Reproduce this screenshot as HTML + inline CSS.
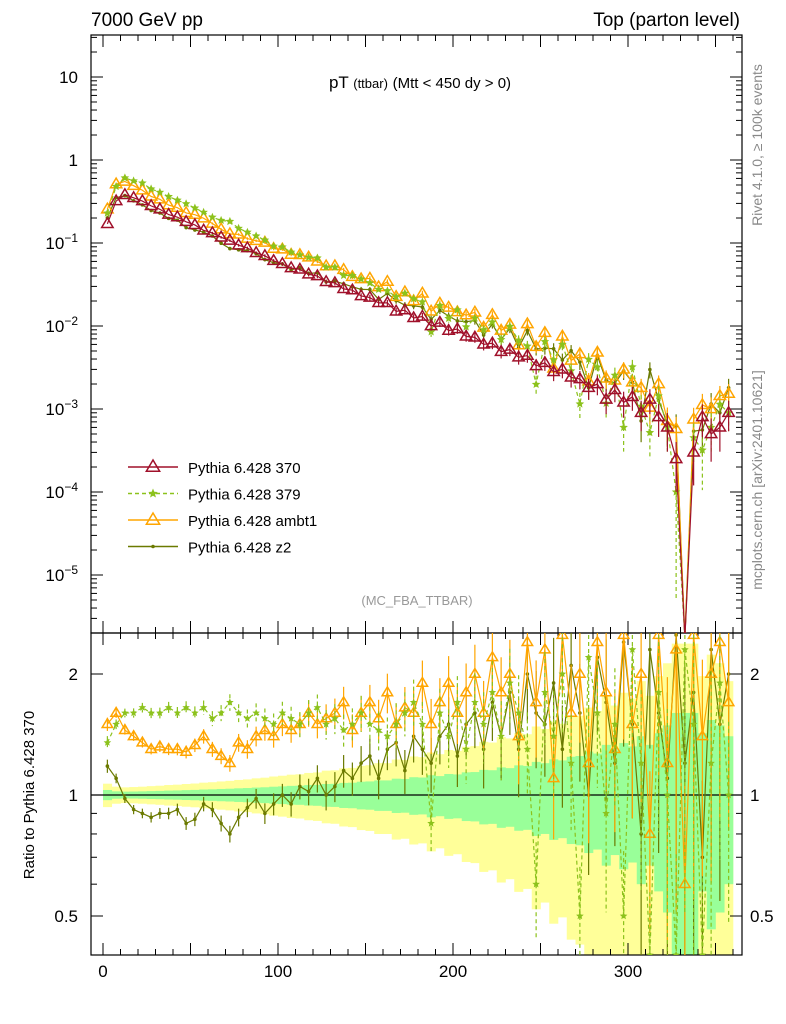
<!DOCTYPE html>
<html><head><meta charset="utf-8"><style>
html,body{margin:0;padding:0;background:#fff;width:786px;height:1024px;overflow:hidden;}
svg{display:block;font-family:"Liberation Sans",sans-serif;}
</style></head><body>
<svg id="c" width="786" height="1024" xmlns="http://www.w3.org/2000/svg">
<text x="91" y="26" font-size="19">7000 GeV pp</text>
<text x="740" y="26" font-size="19" text-anchor="end">Top (parton level)</text>
<text x="420" y="88" font-size="17" text-anchor="middle">pT <tspan font-size="13">(ttbar)</tspan> <tspan font-size="15">(Mtt &lt; 450 dy &gt; 0)</tspan></text>
<text x="417" y="605" font-size="13" fill="#999" text-anchor="middle">(MC_FBA_TTBAR)</text>
<text transform="translate(762,145) rotate(-90)" font-size="14" fill="#888" text-anchor="middle">Rivet 4.1.0, ≥ 100k events</text>
<text transform="translate(762,480) rotate(-90)" font-size="14" fill="#888" text-anchor="middle">mcplots.cern.ch [arXiv:2401.10621]</text>
<text transform="translate(34,795) rotate(-90)" font-size="15" text-anchor="middle">Ratio to Pythia 6.428 370</text>
<g id="g"></g>
</svg>
<script>
const binCenters=[];for(let i=0;i<72;i++)binCenters.push(2.5+5*i);
const ref370=[0.17,0.32,0.38,0.35,0.32,0.28,0.255,0.22,0.205,0.18,0.165,0.142,0.132,0.117,0.107,0.094,0.087,0.076,0.070,0.061,0.056,0.050,0.048,0.042,0.040,0.034,0.033,0.028,0.027,0.023,0.022,0.019,0.019,0.015,0.0155,0.0125,0.013,0.010,0.011,0.0088,0.0092,0.0075,0.0073,0.006,0.0062,0.0049,0.0052,0.0042,0.0044,0.0033,0.0036,0.0028,0.003,0.0024,0.0023,0.0018,0.002,0.0013,0.0017,0.0012,0.0014,0.0009,0.0013,0.0008,0.0006,0.00025,0.00000001,0.0003,0.0008,0.0005,0.0006,0.0009];
const ratio379=[1.35,1.5,1.6,1.6,1.65,1.6,1.6,1.65,1.6,1.65,1.6,1.65,1.55,1.6,1.7,1.6,1.55,1.6,1.55,1.5,1.6,1.55,1.5,1.6,1.65,1.5,1.55,1.45,1.5,1.6,1.5,1.45,1.4,1.5,1.6,1.7,1.5,0.85,1.6,1.4,1.7,1.3,1.7,1.5,1.8,1.4,1.9,1.6,1.3,0.6,1.8,1.4,2.0,1.2,0.5,2.2,1.6,0.9,1.5,0.5,2.3,1.2,0.4,1.8,1.0,0.4,2.3,1.5,0.4,1.2,1.9,1.0];
const ratioAmbt1=[1.5,1.6,1.45,1.4,1.35,1.3,1.32,1.3,1.3,1.28,1.33,1.4,1.3,1.25,1.2,1.35,1.3,1.4,1.45,1.4,1.5,1.45,1.5,1.6,1.5,1.55,1.6,1.7,1.45,1.6,1.7,1.55,1.8,1.5,1.65,1.6,1.9,1.5,1.7,1.9,1.6,1.8,2.0,1.6,2.2,1.8,2.0,1.4,2.4,1.7,2.3,1.1,2.5,1.6,2.0,1.2,2.4,1.8,1.3,2.5,1.5,2.0,0.8,2.5,1.2,2.3,0.6,2.5,1.4,2.0,2.4,1.7];
const ratioZ2=[1.18,1.1,0.98,0.92,0.9,0.88,0.9,0.9,0.92,0.85,0.87,0.95,0.92,0.85,0.8,0.88,0.93,0.98,0.9,0.95,1.0,0.95,1.05,1.02,1.1,1.0,1.05,1.15,1.1,1.2,1.25,1.1,1.3,1.35,1.15,1.4,1.3,1.2,1.4,1.5,1.25,1.5,1.6,1.3,1.7,1.4,1.8,1.3,2.0,1.6,1.5,1.9,1.3,2.1,1.6,1.0,2.2,1.7,1.2,2.4,1.5,0.8,2.3,1.6,1.1,2.5,1.2,1.8,0.7,2.3,1.5,2.0];
const xTicks=[0,100,200,300];
const yTicks=[1,0,-1,-2,-3,-4,-5];
const rTicks=[2,1,0.5];

const NS="http://www.w3.org/2000/svg",G=document.getElementById('g');
function el(t,a,p){const e=document.createElementNS(NS,t);for(const k in a)e.setAttribute(k,a[k]);(p||G).appendChild(e);return e;}
const L=91,R=742,T=35,M=633,B=955;
const cl=(v,a,b)=>Math.max(a,Math.min(b,v));
const X=v=>103+v*1.75;
const Y=v=>cl(160-83*Math.log10(v),T-5,M+5);
const YR=v=>cl(795-121*Math.log2(v),M-5,B+5);
const relErr=binCenters.map((x,i)=>Math.min(0.6,0.012/Math.sqrt(Math.max(ref370[i],0.0004))));
const defs=el('defs',{});
const c1=el('clipPath',{id:'cm'},defs);el('rect',{x:L,y:T,width:R-L,height:M-T},c1);
const c2=el('clipPath',{id:'cr'},defs);el('rect',{x:L,y:M,width:R-L,height:B-M},c2);
const band=el('g',{'clip-path':'url(#cr)'});

binCenters.forEach((x,i)=>{const e=relErr[i];
 el('rect',{x:X(x-2.5),width:1.75*5+0.3,y:YR(1+2.3*e),height:Math.max(0,YR(Math.max(0.05,1-2.3*e))-YR(1+2.3*e)),fill:'#ffff99'},band);});
binCenters.forEach((x,i)=>{const e=relErr[i];
 el('rect',{x:X(x-2.5),width:1.75*5+0.3,y:YR(1+e),height:Math.max(0,YR(Math.max(0.05,1-e))-YR(1+e)),fill:'#99ff99'},band);});
el('line',{x1:L,x2:R,y1:795,y2:795,stroke:'#000','stroke-width':1.2});
el('rect',{x:L,y:T,width:R-L,height:M-T,fill:'none',stroke:'#000','stroke-width':1.2});
el('rect',{x:L,y:M,width:R-L,height:B-M,fill:'none',stroke:'#000','stroke-width':1.2});
yTicks.forEach(p=>{const y=Y(Math.pow(10,p));
 el('line',{x1:L,x2:L+12,y1:y,y2:y,stroke:'#000'});el('line',{x1:R-12,x2:R,y1:y,y2:y,stroke:'#000'});
 const t=el('text',{x:78,y:y+6,'font-size':17,'text-anchor':'end'});
 
 if(p===1)t.textContent='10';else if(p===0)t.textContent='1';else{t.textContent='10';const s=el('tspan',{dy:-7,'font-size':12},t);s.textContent=String(p).replace('-','−');}
});
for(let p=-6;p<=1;p++)for(let m=2;m<10;m++){const raw=160-83*Math.log10(m*Math.pow(10,p));if(raw<T||raw>M)continue;
 el('line',{x1:L,x2:L+6,y1:raw,y2:raw,stroke:'#000'});el('line',{x1:R-6,x2:R,y1:raw,y2:raw,stroke:'#000'});}
rTicks.forEach(r=>{const y=YR(r);el('line',{x1:L,x2:L+12,y1:y,y2:y,stroke:'#000'});el('line',{x1:R-12,x2:R,y1:y,y2:y,stroke:'#000'});
 const t=el('text',{x:78,y:y+6,'font-size':17,'text-anchor':'end'});t.textContent=r;
 const t2=el('text',{x:750,y:y+6,'font-size':17});t2.textContent=r;});
[0.6,0.7,0.8,0.9].forEach(r=>{const y=YR(r);el('line',{x1:L,x2:L+6,y1:y,y2:y,stroke:'#000'});el('line',{x1:R-6,x2:R,y1:y,y2:y,stroke:'#000'});});
for(let v=0;v<=360;v+=10){const x=X(v),big=v%50===0?12:6;
 el('line',{x1:x,x2:x,y1:B-big,y2:B,stroke:'#000'});el('line',{x1:x,x2:x,y1:M-big,y2:M,stroke:'#000'});el('line',{x1:x,x2:x,y1:M,y2:M+big,stroke:'#000'});el('line',{x1:x,x2:x,y1:T,y2:T+big,stroke:'#000'});}
xTicks.forEach(v=>{const t=el('text',{x:X(v),y:977,'font-size':17,'text-anchor':'middle'});t.textContent=v;});
const series=[
 {name:'pythia-370',lab:'Pythia 6.428 370',col:'#a0102a',ratio:binCenters.map(()=>1),mk:'tri',dash:''},
 {name:'pythia-379',lab:'Pythia 6.428 379',col:'#8cc21c',ratio:ratio379,mk:'star',dash:'4,3'},
 {name:'pythia-ambt1',lab:'Pythia 6.428 ambt1',col:'#ffa500',ratio:ratioAmbt1,mk:'tri',dash:''},
 {name:'pythia-z2',lab:'Pythia 6.428 z2',col:'#6b7a00',ratio:ratioZ2,mk:'dot',dash:''}];
function marker(mk,x,y,col,g,s){
 if(mk==='tri')el('polygon',{points:`${x},${y-s} ${x-s*0.95},${y+s*0.6} ${x+s*0.95},${y+s*0.6}`,fill:'none',stroke:col,'stroke-width':1.5},g);
 else if(mk==='star'){let p=[];for(let k=0;k<10;k++){const r=k%2?s*0.45:s,a=-Math.PI/2+k*Math.PI/5;p.push((x+r*Math.cos(a)).toFixed(1)+','+(y+r*Math.sin(a)).toFixed(1));}el('polygon',{points:p.join(' '),fill:col},g);}
 else el('circle',{cx:x,cy:y,r:1.8,fill:col},g);}
[series[3],series[2],series[1],series[0]].forEach(s=>{
 const vals=ref370.map((v,i)=>v*s.ratio[i]);
 const gm=el('g',{'clip-path':'url(#cm)'});
 el('polyline',{points:binCenters.map((x,i)=>X(x)+','+Y(vals[i])).join(' '),fill:'none',stroke:s.col,'stroke-width':1.2,'stroke-dasharray':s.dash},gm);
 binCenters.forEach((x,i)=>{const e=relErr[i]*Math.sqrt(1/s.ratio[i]),v=vals[i];
  if(x>60)el('line',{x1:X(x),x2:X(x),y1:Y(v*(1+e)),y2:Y(Math.max(v*(1-e),1e-7)),stroke:s.col,'stroke-width':1.2,'stroke-dasharray':s.dash},gm);
  marker(s.mk,X(x),Y(v),s.col,gm,s.mk==='tri'?6:4.5);});
 if(s.name==='pythia-370')return;
 const gr=el('g',{'clip-path':'url(#cr)'});
 el('polyline',{points:binCenters.map((x,i)=>X(x)+','+YR(s.ratio[i])).join(' '),fill:'none',stroke:s.col,'stroke-width':1.2,'stroke-dasharray':s.dash},gr);
 binCenters.forEach((x,i)=>{const e=relErr[i]*1.3*s.ratio[i];
  el('line',{x1:X(x),x2:X(x),y1:YR(s.ratio[i]+e),y2:YR(Math.max(s.ratio[i]-e,0.05)),stroke:s.col,'stroke-width':1.2,'stroke-dasharray':s.dash},gr);
  marker(s.mk,X(x),YR(s.ratio[i]),s.col,gr,s.mk==='tri'?5.5:4);});
});
series.forEach((s,k)=>{const y=467+k*26.5;
 const lg=el('g',{});
 el('line',{x1:128,x2:178,y1:y,y2:y,stroke:s.col,'stroke-width':1.4,'stroke-dasharray':s.dash},lg);
 marker(s.mk,153,y,s.col,lg,s.mk==='tri'?7:5);
 const t=el('text',{x:188,y:y+6,'font-size':15},lg);t.textContent=s.lab;});
</script>
</body></html>
